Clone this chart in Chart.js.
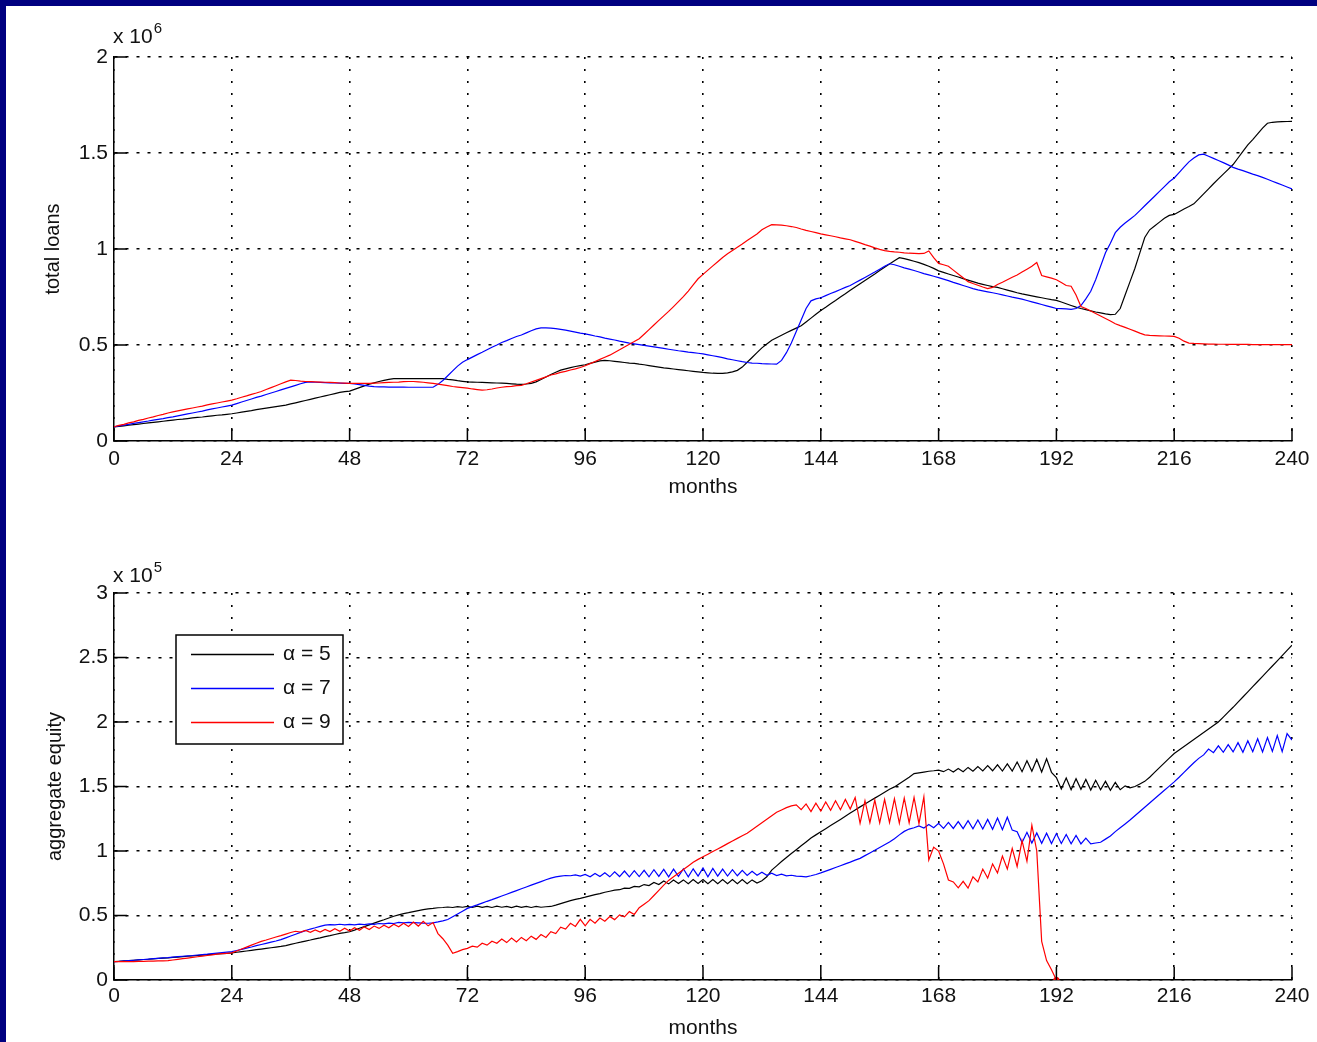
<!DOCTYPE html>
<html>
<head>
<meta charset="utf-8">
<title>total loans / aggregate equity</title>
<script src="https://cdn.jsdelivr.net/npm/chart.js@4.4.1/dist/chart.umd.min.js"></script>
<style>
  html, body { margin: 0; padding: 0; background: #fff; }
  #page { position: relative; width: 1317px; height: 1042px; overflow: hidden; background: #fff; }
  canvas { position: absolute; left: 0; }
  #loans { top: 0; }
  #equity { top: 510px; }
  .frame { position: absolute; background: #000080; z-index: 2; }
</style>
</head>
<body>
<div id="page">
  <canvas id="loans" width="1317" height="510"></canvas>
  <canvas id="equity" width="1317" height="532"></canvas>
  <div class="frame" style="left:0;top:0;width:1317px;height:6px"></div>
  <div class="frame" style="left:0;top:0;width:6px;height:1042px"></div>
</div>
<script>
// x axis: one point per month
const months = Array.from({ length: 241 }, (_, i) => i);
const monthTicks = [0, 24, 48, 72, 96, 120, 144, 168, 192, 216, 240];
const loanTicks = [0, 0.5, 1, 1.5, 2];              // x 10^6
const equityTicks = [0, 0.5, 1, 1.5, 2, 2.5, 3];    // x 10^5
const alphaLabels = ['\u03b1 = 5', '\u03b1 = 7', '\u03b1 = 9'];
const lineColors = ['#000000', '#0000ff', '#ff0000'];

// total loans (x 10^6), months 0..240
const loansA5 = [
  0.074,0.076,0.079,0.082,0.085,0.088,0.091,0.094,0.097,0.100,0.103,0.106,
  0.109,0.112,0.114,0.117,0.120,0.123,0.125,0.128,0.131,0.134,0.136,0.139,
  0.142,0.146,0.150,0.154,0.158,0.163,0.167,0.171,0.175,0.179,0.183,0.187,
  0.193,0.199,0.205,0.211,0.217,0.223,0.229,0.235,0.241,0.247,0.253,0.257,
  0.260,0.269,0.278,0.287,0.296,0.303,0.310,0.316,0.321,0.325,0.325,0.325,
  0.325,0.325,0.325,0.325,0.325,0.325,0.325,0.325,0.321,0.318,0.314,0.311,
  0.308,0.307,0.306,0.305,0.304,0.303,0.302,0.301,0.300,0.298,0.296,0.295,
  0.297,0.300,0.308,0.320,0.333,0.346,0.358,0.369,0.376,0.382,0.388,0.393,
  0.397,0.404,0.411,0.417,0.420,0.418,0.415,0.412,0.409,0.406,0.404,0.400,
  0.397,0.393,0.389,0.385,0.381,0.378,0.375,0.372,0.369,0.366,0.363,0.360,
  0.357,0.355,0.353,0.352,0.352,0.355,0.360,0.368,0.385,0.410,0.435,0.460,
  0.485,0.505,0.525,0.538,0.551,0.564,0.576,0.588,0.600,0.620,0.640,0.660,
  0.680,0.697,0.715,0.732,0.750,0.767,0.785,0.802,0.819,0.836,0.853,0.870,
  0.888,0.905,0.922,0.939,0.955,0.950,0.943,0.936,0.929,0.920,0.910,0.899,
  0.886,0.878,0.870,0.862,0.854,0.846,0.838,0.830,0.822,0.816,0.810,0.804,
  0.800,0.793,0.786,0.779,0.772,0.766,0.761,0.756,0.751,0.746,0.741,0.736,
  0.732,0.724,0.715,0.706,0.697,0.690,0.684,0.678,0.672,0.667,0.662,0.658,
  0.660,0.690,0.760,0.830,0.900,0.980,1.060,1.100,1.120,1.140,1.160,1.175,
  1.180,1.194,1.208,1.221,1.235,1.261,1.287,1.313,1.340,1.365,1.390,1.415,
  1.440,1.474,1.508,1.542,1.570,1.600,1.630,1.655,1.660,1.662,1.663,1.664,1.665
];
const loansA7 = [
  0.074,0.079,0.083,0.087,0.092,0.096,0.100,0.104,0.109,0.113,0.117,0.122,
  0.126,0.131,0.136,0.141,0.146,0.151,0.156,0.162,0.167,0.172,0.177,0.182,
  0.187,0.195,0.203,0.211,0.219,0.227,0.234,0.242,0.250,0.258,0.266,0.274,
  0.282,0.290,0.298,0.305,0.308,0.306,0.305,0.304,0.303,0.302,0.301,0.300,
  0.300,0.297,0.294,0.290,0.286,0.283,0.282,0.282,0.281,0.281,0.281,0.281,
  0.280,0.280,0.280,0.280,0.280,0.280,0.295,0.315,0.340,0.365,0.390,0.410,
  0.424,0.437,0.450,0.462,0.475,0.488,0.500,0.513,0.523,0.534,0.544,0.552,
  0.563,0.574,0.584,0.589,0.589,0.588,0.585,0.581,0.577,0.572,0.567,0.562,
  0.558,0.553,0.547,0.542,0.536,0.531,0.526,0.520,0.515,0.510,0.506,0.502,
  0.498,0.494,0.490,0.486,0.482,0.478,0.474,0.470,0.467,0.463,0.460,0.457,
  0.454,0.449,0.444,0.439,0.434,0.428,0.423,0.418,0.413,0.409,0.406,0.405,
  0.403,0.402,0.401,0.400,0.420,0.460,0.510,0.570,0.630,0.690,0.730,0.740,
  0.746,0.757,0.768,0.778,0.789,0.800,0.810,0.824,0.838,0.852,0.866,0.880,
  0.895,0.910,0.923,0.918,0.910,0.902,0.895,0.888,0.880,0.872,0.865,0.858,
  0.851,0.843,0.835,0.826,0.818,0.810,0.802,0.794,0.787,0.782,0.777,0.772,
  0.767,0.761,0.755,0.749,0.744,0.739,0.732,0.725,0.718,0.711,0.704,0.697,
  0.690,0.689,0.688,0.686,0.690,0.705,0.740,0.780,0.840,0.910,0.980,1.030,
  1.085,1.113,1.135,1.155,1.175,1.200,1.225,1.250,1.275,1.300,1.325,1.350,
  1.370,1.398,1.426,1.454,1.474,1.490,1.494,1.483,1.472,1.461,1.450,1.438,
  1.425,1.416,1.408,1.399,1.390,1.382,1.373,1.363,1.353,1.343,1.333,1.323,1.313
];
const loansA9 = [
  0.074,0.081,0.087,0.094,0.100,0.107,0.113,0.120,0.126,0.133,0.139,0.146,
  0.152,0.157,0.162,0.167,0.172,0.177,0.182,0.188,0.193,0.198,0.203,0.208,
  0.213,0.220,0.228,0.235,0.243,0.250,0.258,0.268,0.278,0.288,0.298,0.308,
  0.317,0.315,0.312,0.310,0.309,0.308,0.307,0.306,0.305,0.304,0.302,0.301,
  0.300,0.300,0.300,0.300,0.300,0.301,0.302,0.304,0.305,0.306,0.307,0.309,
  0.310,0.310,0.308,0.306,0.303,0.300,0.296,0.292,0.288,0.284,0.281,0.278,
  0.275,0.271,0.268,0.265,0.267,0.271,0.276,0.280,0.283,0.285,0.288,0.290,
  0.298,0.307,0.316,0.325,0.334,0.344,0.350,0.357,0.363,0.370,0.376,0.383,
  0.392,0.403,0.414,0.425,0.436,0.447,0.461,0.475,0.490,0.504,0.518,0.533,
  0.556,0.580,0.604,0.628,0.652,0.675,0.700,0.726,0.752,0.781,0.813,0.845,
  0.868,0.890,0.912,0.934,0.956,0.975,0.992,1.009,1.026,1.044,1.061,1.078,
  1.100,1.115,1.127,1.126,1.124,1.121,1.117,1.112,1.104,1.097,1.091,1.085,
  1.079,1.074,1.069,1.064,1.058,1.053,1.048,1.040,1.032,1.023,1.015,1.006,
  0.998,0.992,0.988,0.985,0.983,0.980,0.978,0.977,0.976,0.977,0.990,0.955,
  0.925,0.918,0.910,0.890,0.870,0.850,0.830,0.820,0.811,0.802,0.794,0.800,
  0.815,0.827,0.840,0.853,0.865,0.880,0.895,0.910,0.930,0.862,0.855,0.848,
  0.840,0.825,0.810,0.806,0.760,0.700,0.690,0.677,0.664,0.651,0.638,0.625,
  0.611,0.601,0.592,0.582,0.572,0.562,0.553,0.550,0.549,0.548,0.547,0.546,
  0.545,0.535,0.520,0.510,0.508,0.507,0.506,0.505,0.505,0.504,0.504,0.503,
  0.503,0.503,0.503,0.503,0.502,0.502,0.502,0.502,0.502,0.502,0.502,0.502,0.502
];

// aggregate equity (x 10^5), months 0..240 (alpha = 9 stops at month 192)
const equityA5 = [
  0.142,0.145,0.148,0.150,0.153,0.156,0.159,0.161,0.164,0.167,0.170,0.172,
  0.175,0.178,0.181,0.184,0.187,0.190,0.193,0.196,0.199,0.202,0.204,0.207,
  0.210,0.215,0.220,0.225,0.230,0.235,0.240,0.245,0.250,0.255,0.260,0.267,
  0.276,0.285,0.293,0.302,0.310,0.319,0.327,0.336,0.344,0.353,0.361,0.367,
  0.374,0.387,0.401,0.414,0.427,0.441,0.454,0.467,0.481,0.494,0.505,0.515,
  0.522,0.530,0.538,0.545,0.551,0.555,0.560,0.562,0.566,0.562,0.568,0.564,
  0.570,0.562,0.572,0.563,0.571,0.562,0.573,0.564,0.570,0.561,0.572,0.563,
  0.571,0.562,0.570,0.564,0.568,0.570,0.580,0.592,0.604,0.615,0.625,0.633,
  0.642,0.652,0.662,0.670,0.680,0.688,0.696,0.700,0.712,0.710,0.725,0.722,
  0.740,0.732,0.756,0.740,0.768,0.745,0.775,0.748,0.776,0.746,0.778,0.748,
  0.778,0.746,0.778,0.746,0.778,0.746,0.778,0.746,0.778,0.746,0.776,0.752,
  0.770,0.800,0.852,0.885,0.918,0.950,0.980,1.010,1.040,1.070,1.100,1.125,
  1.149,1.173,1.197,1.221,1.245,1.270,1.294,1.318,1.342,1.365,1.388,1.410,
  1.433,1.456,1.478,1.497,1.522,1.547,1.572,1.600,1.606,1.612,1.618,1.622,
  1.627,1.615,1.635,1.612,1.640,1.615,1.648,1.618,1.655,1.620,1.662,1.622,
  1.668,1.620,1.675,1.620,1.690,1.615,1.700,1.618,1.710,1.612,1.715,1.610,
  1.570,1.480,1.565,1.475,1.560,1.478,1.555,1.472,1.548,1.475,1.540,1.470,
  1.532,1.475,1.505,1.490,1.500,1.520,1.540,1.572,1.609,1.646,1.683,1.720,
  1.756,1.783,1.810,1.837,1.864,1.891,1.918,1.945,1.972,2.000,2.038,2.076,
  2.114,2.154,2.194,2.234,2.274,2.314,2.354,2.394,2.434,2.474,2.515,2.555,2.595
];
const equityA7 = [
  0.142,0.144,0.147,0.150,0.153,0.156,0.159,0.162,0.165,0.168,0.171,0.174,
  0.178,0.181,0.184,0.187,0.190,0.194,0.197,0.200,0.204,0.208,0.212,0.216,
  0.220,0.229,0.238,0.247,0.256,0.266,0.275,0.284,0.293,0.302,0.313,0.327,
  0.341,0.355,0.369,0.383,0.395,0.405,0.416,0.426,0.430,0.428,0.432,0.427,
  0.431,0.428,0.433,0.430,0.435,0.432,0.438,0.435,0.441,0.438,0.446,0.443,
  0.447,0.445,0.443,0.441,0.440,0.443,0.450,0.458,0.469,0.490,0.512,0.533,
  0.555,0.569,0.582,0.596,0.610,0.623,0.637,0.651,0.665,0.679,0.693,0.707,
  0.721,0.735,0.749,0.763,0.777,0.790,0.800,0.805,0.810,0.808,0.815,0.805,
  0.818,0.800,0.825,0.802,0.832,0.800,0.838,0.802,0.845,0.800,0.848,0.802,
  0.850,0.800,0.855,0.803,0.858,0.800,0.860,0.803,0.862,0.800,0.862,0.805,
  0.868,0.800,0.865,0.805,0.860,0.806,0.855,0.808,0.850,0.810,0.842,0.812,
  0.835,0.812,0.828,0.810,0.820,0.808,0.812,0.805,0.803,0.800,0.808,0.818,
  0.830,0.844,0.858,0.872,0.886,0.900,0.914,0.929,0.943,0.964,0.985,1.006,
  1.027,1.048,1.070,1.095,1.125,1.152,1.170,1.180,1.195,1.178,1.205,1.180,
  1.215,1.176,1.222,1.175,1.228,1.174,1.235,1.172,1.240,1.170,1.245,1.168,
  1.255,1.165,1.262,1.162,1.150,1.065,1.145,1.062,1.140,1.060,1.138,1.058,
  1.135,1.058,1.128,1.056,1.120,1.055,1.100,1.056,1.062,1.068,1.092,1.117,
  1.150,1.180,1.210,1.240,1.273,1.306,1.339,1.372,1.405,1.438,1.471,1.503,
  1.536,1.572,1.610,1.647,1.684,1.718,1.745,1.790,1.762,1.815,1.765,1.825,
  1.768,1.840,1.765,1.855,1.770,1.870,1.768,1.880,1.772,1.895,1.770,1.910,1.860
];
const equityA9 = [
  0.142,0.142,0.142,0.143,0.143,0.144,0.145,0.146,0.147,0.148,0.149,0.150,
  0.155,0.160,0.165,0.170,0.175,0.180,0.185,0.190,0.195,0.200,0.204,0.207,
  0.210,0.225,0.240,0.255,0.270,0.285,0.299,0.310,0.322,0.333,0.344,0.356,
  0.368,0.378,0.372,0.384,0.370,0.388,0.372,0.392,0.375,0.398,0.378,0.402,
  0.380,0.405,0.385,0.412,0.392,0.418,0.400,0.425,0.405,0.432,0.412,0.440,
  0.415,0.450,0.418,0.455,0.420,0.445,0.360,0.320,0.270,0.207,0.220,0.235,
  0.245,0.262,0.255,0.285,0.270,0.300,0.285,0.318,0.290,0.325,0.295,0.330,
  0.305,0.340,0.315,0.352,0.330,0.375,0.360,0.410,0.395,0.440,0.415,0.470,
  0.420,0.470,0.440,0.480,0.455,0.492,0.468,0.505,0.490,0.530,0.508,0.560,
  0.588,0.615,0.655,0.695,0.735,0.772,0.800,0.828,0.856,0.884,0.912,0.935,
  0.955,0.975,0.996,1.016,1.036,1.057,1.077,1.098,1.118,1.138,1.165,1.192,
  1.219,1.246,1.273,1.300,1.318,1.336,1.350,1.358,1.320,1.365,1.305,1.370,
  1.310,1.380,1.315,1.390,1.320,1.400,1.325,1.415,1.215,1.390,1.220,1.395,
  1.218,1.400,1.220,1.405,1.215,1.410,1.218,1.415,1.212,1.420,0.930,1.030,
  1.000,0.900,0.775,0.760,0.715,0.765,0.712,0.800,0.760,0.860,0.790,0.900,
  0.830,0.960,0.860,1.020,0.880,1.080,0.920,1.200,1.000,0.300,0.150,0.080,
  0.000
];

const FONT = '"Liberation Sans", Arial, Helvetica, sans-serif';
const TEXT = '#111';

// inward tick marks and the "x 10^n" multiplier, like the original figure
const axesExtras = {
  id: 'axesExtras',
  afterDraw(chart, args, opts) {
    const { ctx, chartArea: a, scales: { x, y } } = chart;
    ctx.save();
    ctx.strokeStyle = '#000';
    ctx.lineWidth = 1.5;
    ctx.beginPath();
    x.ticks.forEach(t => {
      const px = x.getPixelForValue(t.value);
      ctx.moveTo(px, a.bottom);
      ctx.lineTo(px, a.bottom - 13);
    });
    y.ticks.forEach(t => {
      const py = y.getPixelForValue(t.value);
      ctx.moveTo(a.left, py);
      ctx.lineTo(a.left + 13, py);
    });
    ctx.stroke();

    ctx.fillStyle = TEXT;
    ctx.textAlign = 'left';
    ctx.textBaseline = 'alphabetic';
    ctx.font = '21px ' + FONT;
    const base = a.top + opts.dy;
    ctx.fillText('x 10', a.left - 1, base);
    const w = ctx.measureText('x 10').width;
    ctx.font = '15px ' + FONT;
    ctx.fillText(opts.power, a.left + w, base - 10);
    ctx.restore();
  }
};

// boxed legend inside the plot area
const boxLegend = {
  id: 'boxLegend',
  afterDraw(chart, args, opts) {
    if (!opts.show) return;
    const { ctx, chartArea: a } = chart;
    const left = a.left + 62, top = a.top + 42, w = 167, h = 109;
    ctx.save();
    ctx.fillStyle = '#fff';
    ctx.fillRect(left, top, w, h);
    ctx.strokeStyle = '#000';
    ctx.lineWidth = 1.5;
    ctx.strokeRect(left, top, w, h);
    ctx.font = '21px ' + FONT;
    ctx.textAlign = 'left';
    ctx.textBaseline = 'middle';
    chart.data.datasets.forEach((ds, i) => {
      const yy = top + 19.5 + i * 34;
      ctx.strokeStyle = ds.borderColor;
      ctx.beginPath();
      ctx.moveTo(left + 15, yy);
      ctx.lineTo(left + 98, yy);
      ctx.stroke();
      ctx.fillStyle = TEXT;
      ctx.fillText(ds.label, left + 107, yy);
    });
    ctx.restore();
  }
};

function makeChart(id, series, yTicks, yTitle, L) {
  return new Chart(document.getElementById(id), {
    type: 'line',
    data: {
      labels: months,
      datasets: series.map((values, i) => ({
        label: alphaLabels[i],
        data: values,
        borderColor: lineColors[i],
        backgroundColor: lineColors[i],
        borderWidth: 1.2,
        pointRadius: c => (L.endDot && i === 2 && c.dataIndex === values.length - 1) ? 2.5 : 0,
        tension: 0,
        order: 2 - i
      }))
    },
    options: {
      responsive: false,
      animation: false,
      devicePixelRatio: 1,
      events: [],
      layout: { padding: { left: 0, right: 25, top: L.top, bottom: 0 } },
      scales: {
        x: {
          type: 'linear',
          min: 0,
          max: 240,
          afterBuildTicks: s => { s.ticks = monthTicks.map(v => ({ value: v })); },
          afterFit: s => { s.height = L.xHeight; },
          grid: { color: '#000', lineWidth: 1.6, drawTicks: false },
          border: { display: true, color: '#000', width: 1.5, dash: [2, 10] },
          ticks: {
            color: TEXT, padding: L.tickPad, maxRotation: 0, autoSkip: false,
            font: { family: FONT, size: 21 },
            callback: v => String(v)
          },
          title: {
            display: true, text: 'months', color: TEXT,
            font: { family: FONT, size: 21 },
            padding: { top: 0, bottom: L.titlePad }
          }
        },
        y: {
          type: 'linear',
          min: 0,
          max: yTicks[yTicks.length - 1],
          afterBuildTicks: s => { s.ticks = yTicks.map(v => ({ value: v })); },
          afterFit: s => { s.width = 114; },
          grid: { color: '#000', lineWidth: 1.6, drawTicks: false },
          border: { display: true, color: '#000', width: 1.5, dash: [3, 8] },
          ticks: {
            color: TEXT, padding: 6,
            font: { family: FONT, size: 21 },
            callback: v => String(v)
          },
          title: {
            display: true, text: yTitle, color: TEXT,
            font: { family: FONT, size: 20 },
            padding: { top: L.yTitlePad, bottom: 0 }
          }
        }
      },
      plugins: {
        legend: { display: false },
        tooltip: { enabled: false },
        axesExtras: { power: L.power, dy: L.expoDy },
        boxLegend: { show: L.legend }
      }
    },
    plugins: [axesExtras, boxLegend]
  });
}

makeChart('loans', [loansA5, loansA7, loansA9], loanTicks, 'total loans', {
  top: 57, xHeight: 69, tickPad: 6, titlePad: 10, yTitlePad: 41,
  power: '6', expoDy: -14, legend: false, endDot: false
});

makeChart('equity', [equityA5, equityA7, equityA9], equityTicks, 'aggregate equity', {
  top: 83, xHeight: 62, tickPad: 4, titlePad: 1, yTitlePad: 43,
  power: '5', expoDy: -11, legend: true, endDot: true
});
</script>
</body>
</html>
